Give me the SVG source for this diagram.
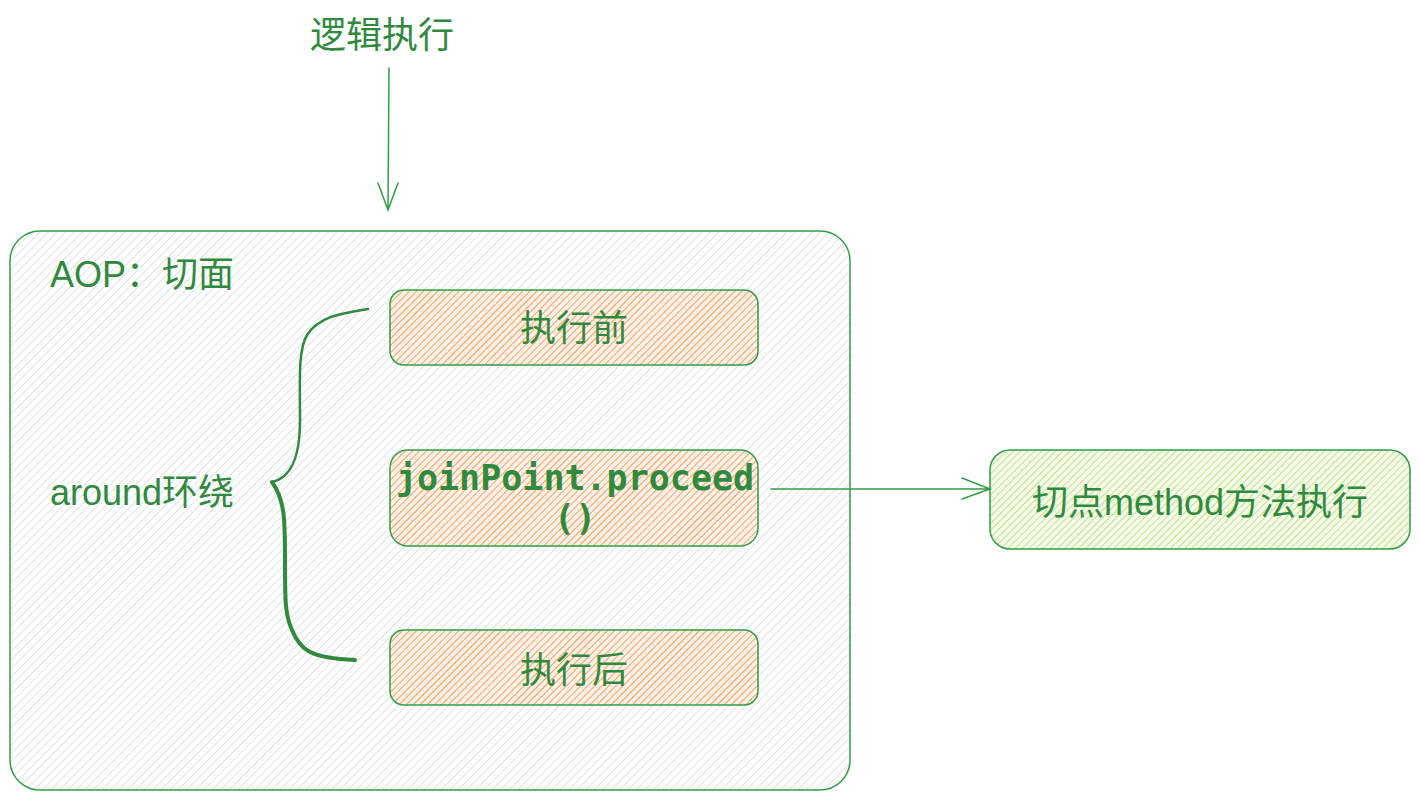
<svg xmlns="http://www.w3.org/2000/svg" width="1420" height="800" viewBox="0 0 1420 800">
<defs>
<pattern id="hGray" patternUnits="userSpaceOnUse" width="6" height="6" patternTransform="rotate(-45)">
<rect width="6" height="6" fill="#ffffff"/>
<line x1="0" y1="0" x2="6" y2="0" stroke="#dfe2e6" stroke-width="2"/>
</pattern>
<pattern id="hOrange" patternUnits="userSpaceOnUse" width="5" height="5" patternTransform="rotate(-45)">
<rect width="5" height="5" fill="#fbf1ea"/>
<line x1="0" y1="0" x2="5" y2="0" stroke="#f9a15a" stroke-width="2"/>
</pattern>
<pattern id="hGreen" patternUnits="userSpaceOnUse" width="5" height="5" patternTransform="rotate(-45)">
<rect width="5" height="5" fill="#f6fbec"/>
<line x1="0" y1="0" x2="5" y2="0" stroke="#bde486" stroke-width="2"/>
</pattern>
</defs>
<style>
.box{stroke:#2f9e44;stroke-width:1.5}
.t{font-family:"Liberation Sans","Noto Sans CJK SC",sans-serif;fill:#2f8a3e;font-size:36px}
.m{font-family:"DejaVu Sans Mono","Liberation Mono","Noto Sans CJK SC",monospace;fill:#2f8a3e;font-size:35px;font-weight:bold}
.c{stroke:#2f9e44;stroke-width:1.5;fill:none;stroke-linecap:round}
</style>
<rect width="1420" height="800" fill="#ffffff"/>
<g id="title">
<text class="t" x="382" y="48" text-anchor="middle" font-size="38">逻辑执行</text>
</g>
<g id="aop">
<rect class="box" x="10" y="231" width="840" height="559" rx="30" fill="url(#hGray)"/>
<text class="t" x="50" y="287" font-size="38">AOP：切面</text>
<text class="t" x="50" y="505">around环绕</text>
</g>
<g id="before">
<rect class="box" x="390" y="290" width="368" height="75" rx="14" fill="url(#hOrange)"/>
<text class="t" x="574" y="341" text-anchor="middle">执行前</text>
</g>
<g id="proceed">
<rect class="box" x="390" y="450" width="368" height="96" rx="18" fill="url(#hOrange)"/>
<text class="m" x="575" y="490" text-anchor="middle">joinPoint.proceed</text>
<text class="m" x="575" y="530" text-anchor="middle">()</text>
</g>
<g id="after">
<rect class="box" x="390" y="630" width="368" height="75" rx="14" fill="url(#hOrange)"/>
<text class="t" x="574" y="683" text-anchor="middle">执行后</text>
</g>
<g id="method">
<rect class="box" x="990" y="450" width="420" height="99" rx="20" fill="url(#hGreen)"/>
<text class="t" x="1200" y="515" text-anchor="middle" font-size="38">切点method方法执行</text>
</g>
<g id="connectors">
<path class="c" d="M389 68 L388 210 M378 183 L388 210 L398 183"/>
<path class="c" d="M771 489 L990 489 M962 478 L990 489 L962 499"/>
<path d="M368 309 C345 313 320 315 307 335 C298 350 300 380 300 420 C300 460 290 478 272 482" fill="none" stroke="#2f8a3e" stroke-width="2.5" stroke-linecap="round"/>
<path d="M272 482 C285 500 285 520 285 560 C285 600 285 615 292 630 C300 650 310 658 355 660" fill="none" stroke="#2f8a3e" stroke-width="4" stroke-linecap="round"/>
</g>
</svg>
